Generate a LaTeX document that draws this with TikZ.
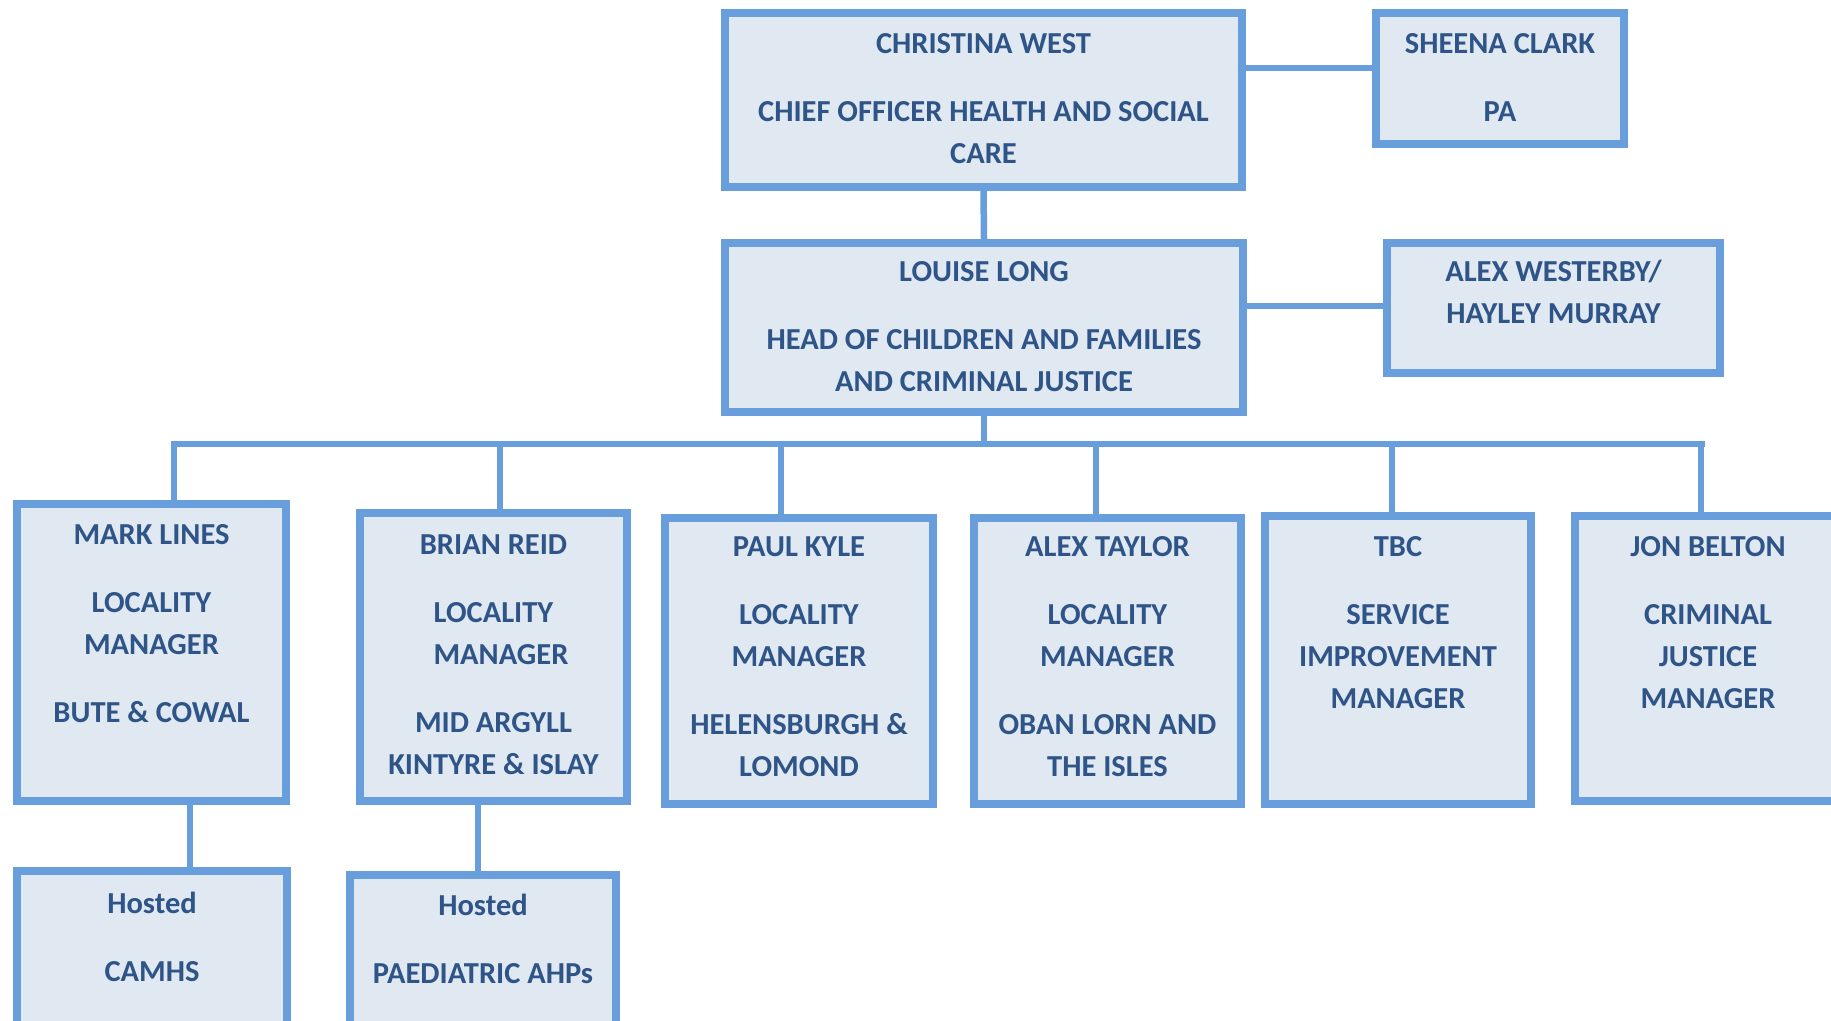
\documentclass[tikz,border=0pt]{standalone}
\usepackage{fontspec}
\setmainfont{Carlito}
\definecolor{boxline}{RGB}{104,158,219}
\definecolor{boxfill}{RGB}{224,232,242}
\definecolor{txtblue}{RGB}{46,84,136}
\tikzset{
  orgbox/.style={rectangle, draw=boxline, fill=boxfill, line width=8pt, inner sep=0pt},
  orgtxt/.style={text=txtblue, font=\fontsize{30.5}{42}\selectfont\bfseries, align=center, inner sep=0pt, anchor=north},
  conn/.style={draw=boxline, line width=6.5pt}
}
% #1 name, #2 x1, #3 y1, #4 x2, #5 y2 (outer edges), #6 cap-centre of first line, #7 text
\newcommand\orgnode[7]{%
  \node[orgbox, minimum width={#4-#2-8}, minimum height={#5-#3-8}] (#1) at ({(#2+#4)/2},{(#3+#5)/2}) {};
  \node[orgtxt] (#1t) at ({(#2+#4)/2},{#6-13}) {\rule{0pt}{23pt}#7};
}
\begin{document}
\begin{tikzpicture}[x=1pt,y=-1pt]
\useasboundingbox (0,0) rectangle (1831,1020);
\clip (0,0) rectangle (1831,1020);

\orgnode{CW}{721}{9}{1246}{191}{43}{CHRISTINA WEST\\[26pt]CHIEF OFFICER HEALTH AND SOCIAL\\CARE}
\orgnode{SC}{1372}{9}{1628}{148}{43}{SHEENA CLARK\\[26pt]PA}
\orgnode{LL}{721}{239}{1247}{416}{271}{LOUISE LONG\\[26pt]HEAD OF CHILDREN AND FAMILIES\\AND CRIMINAL JUSTICE}
\orgnode{AW}{1383}{239}{1724}{377}{271}{ALEX WESTERBY/\\HAYLEY MURRAY}
\orgnode{ML}{13}{500}{290}{805}{534}{MARK LINES\\[26pt]LOCALITY\\MANAGER\\[26pt]BUTE \& COWAL}
\orgnode{BR}{356}{509}{631}{805}{544}{BRIAN REID\\[26pt]LOCALITY\\\hspace*{15pt}MANAGER\\[26pt]MID ARGYLL\\KINTYRE \& ISLAY}
\orgnode{PK}{661}{514}{937}{808}{546}{PAUL KYLE\\[26pt]LOCALITY\\MANAGER\\[26pt]HELENSBURGH \&\\LOMOND}
\orgnode{AT}{970}{514}{1245}{808}{546}{ALEX TAYLOR\\[26pt]LOCALITY\\MANAGER\\[26pt]OBAN LORN AND\\THE ISLES}
\orgnode{TB}{1261}{512}{1535}{808}{546}{TBC\\[26pt]SERVICE\\IMPROVEMENT\\MANAGER}
\orgnode{JB}{1571}{512}{1845}{805}{546}{JON BELTON\\[26pt]CRIMINAL\\JUSTICE\\MANAGER}
\orgnode{CA}{13}{867}{291}{1040}{903}{Hosted\\[26pt]CAMHS}
\orgnode{PA}{346}{871}{620}{1040}{905}{Hosted\\[26pt]PAEDIATRIC AHPs}

% connectors
\coordinate (cwsc) at (1238,68);
\draw[conn] (cwsc) -- (cwsc -| SC.west);
\draw[conn] (CW.south) -- (LL.north);
\coordinate (llaw) at (1247,306);
\draw[conn] (llaw) -- (llaw -| AW.west);
\coordinate (busL) at (171,444);
\coordinate (busR) at (1704.5,444);
\draw[conn] (LL.south) -- (LL.south |- busL);
\draw[conn] (busL) -- (busR);
\coordinate (dML) at (174,444);
\coordinate (dBR) at (500,444);
\coordinate (dPK) at (781,444);
\coordinate (dAT) at (1096,444);
\coordinate (dTB) at (1392,444);
\coordinate (dJB) at (1701,444);
\draw[conn] (dML) -- (dML |- ML.north);
\draw[conn] (dBR) -- (dBR |- BR.north);
\draw[conn] (dPK) -- (dPK |- PK.north);
\draw[conn] (dAT) -- (dAT |- AT.north);
\draw[conn] (dTB) -- (dTB |- TB.north);
\draw[conn] (dJB) -- (dJB |- JB.north);
\coordinate (dCA) at (190,801);
\draw[conn] (dCA) -- (dCA |- CA.north);
\coordinate (dPA) at (478,801);
\draw[conn] (dPA) -- (dPA |- PA.north);
\end{tikzpicture}
\end{document}
